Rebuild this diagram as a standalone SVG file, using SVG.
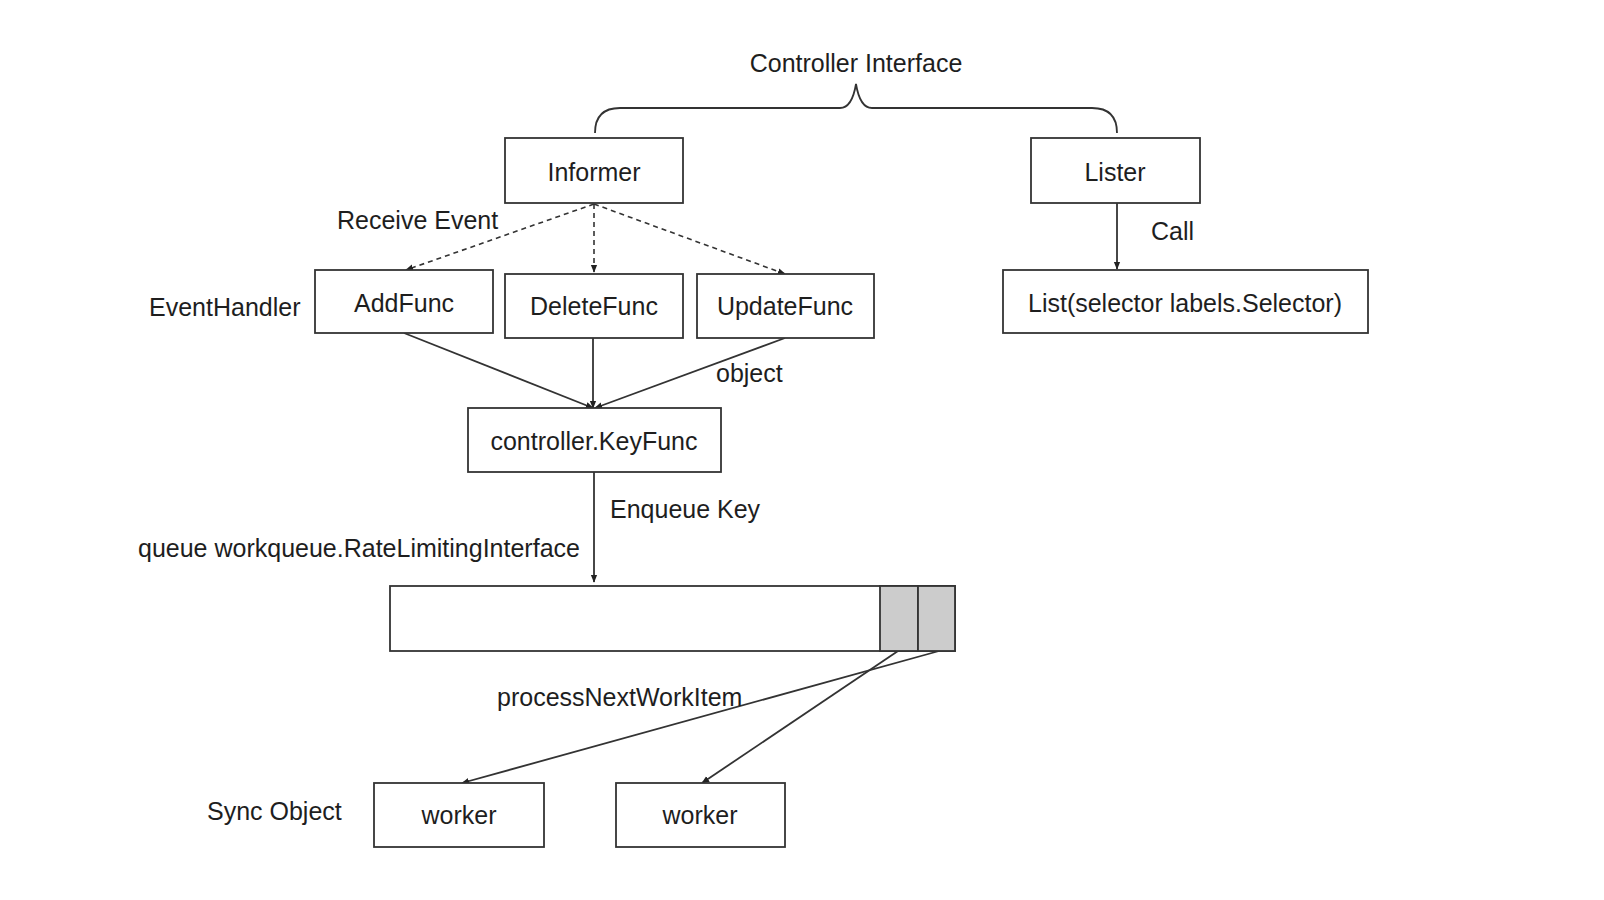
<svg xmlns="http://www.w3.org/2000/svg" width="1604" height="900" viewBox="0 0 1604 900">
<style>
.box{fill:#fff;stroke:#333;stroke-width:1.8}
.cell{fill:#ccc;stroke:#333;stroke-width:1.8}
text{font-family:"Liberation Sans",Arial,sans-serif;font-size:25px;fill:#1e1e1e}
.c{text-anchor:middle}
.ln{fill:none;stroke:#333;stroke-width:1.8}
.dash{stroke-dasharray:5 4;stroke-width:1.6}
</style>
<defs>
<marker id="ah" viewBox="0 0 10 10" refX="9" refY="5" markerWidth="8" markerHeight="8" orient="auto" markerUnits="userSpaceOnUse">
<path d="M0,1 L10,5 L0,9 z" fill="#222"/>
</marker>
</defs>
<text class="c" x="856" y="72">Controller Interface</text>
<path class="ln" d="M595,133 Q595,108 620,108 L840,108 Q852,108 856,84 Q860,108 872,108 L1092,108 Q1117,108 1117,133"/>
<g id="connectors">
<line class="ln dash" x1="594" y1="204" x2="406" y2="270" marker-end="url(#ah)"/>
<line class="ln dash" x1="594" y1="204" x2="594" y2="272" marker-end="url(#ah)"/>
<line class="ln dash" x1="594" y1="204" x2="785" y2="274" marker-end="url(#ah)"/>
<line class="ln" x1="404" y1="333" x2="593" y2="408" marker-end="url(#ah)"/>
<line class="ln" x1="593" y1="338" x2="593" y2="408" marker-end="url(#ah)"/>
<line class="ln" x1="785" y1="338" x2="595" y2="408" marker-end="url(#ah)"/>
<line class="ln" x1="594" y1="472" x2="594" y2="582" marker-end="url(#ah)"/>
<line class="ln" x1="1117" y1="203" x2="1117" y2="269" marker-end="url(#ah)"/>
<line class="ln" x1="898" y1="651" x2="702" y2="783" marker-end="url(#ah)"/>
<line class="ln" x1="939" y1="651" x2="462" y2="783" marker-end="url(#ah)"/>
</g>
<text x="337" y="229">Receive Event</text>
<text x="716" y="382">object</text>
<text x="610" y="518">Enqueue Key</text>
<text x="1151" y="240">Call</text>
<text x="497" y="706">processNextWorkItem</text>
<text x="149" y="316">EventHandler</text>
<text x="138" y="557">queue workqueue.RateLimitingInterface</text>
<text x="207" y="820">Sync Object</text>
<g id="informer"><rect class="box" x="505" y="138" width="178" height="65"/><text class="c" x="594" y="181">Informer</text></g>
<g id="lister"><rect class="box" x="1031" y="138" width="169" height="65"/><text class="c" x="1115" y="181">Lister</text></g>
<g id="addfunc"><rect class="box" x="315" y="270" width="178" height="63"/><text class="c" x="404" y="312">AddFunc</text></g>
<g id="deletefunc"><rect class="box" x="505" y="274" width="178" height="64"/><text class="c" x="594" y="315">DeleteFunc</text></g>
<g id="updatefunc"><rect class="box" x="697" y="274" width="177" height="64"/><text class="c" x="785" y="315">UpdateFunc</text></g>
<g id="list"><rect class="box" x="1003" y="270" width="365" height="63"/><text class="c" x="1185" y="312">List(selector labels.Selector)</text></g>
<g id="keyfunc"><rect class="box" x="468" y="408" width="253" height="64"/><text class="c" x="594" y="450">controller.KeyFunc</text></g>
<g id="queue"><rect class="box" x="390" y="586" width="565" height="65"/><rect class="cell" x="880" y="586" width="38" height="65"/><rect class="cell" x="918" y="586" width="37" height="65"/></g>
<g id="worker1"><rect class="box" x="374" y="783" width="170" height="64"/><text class="c" x="459" y="824">worker</text></g>
<g id="worker2"><rect class="box" x="616" y="783" width="169" height="64"/><text class="c" x="700" y="824">worker</text></g>
</svg>
